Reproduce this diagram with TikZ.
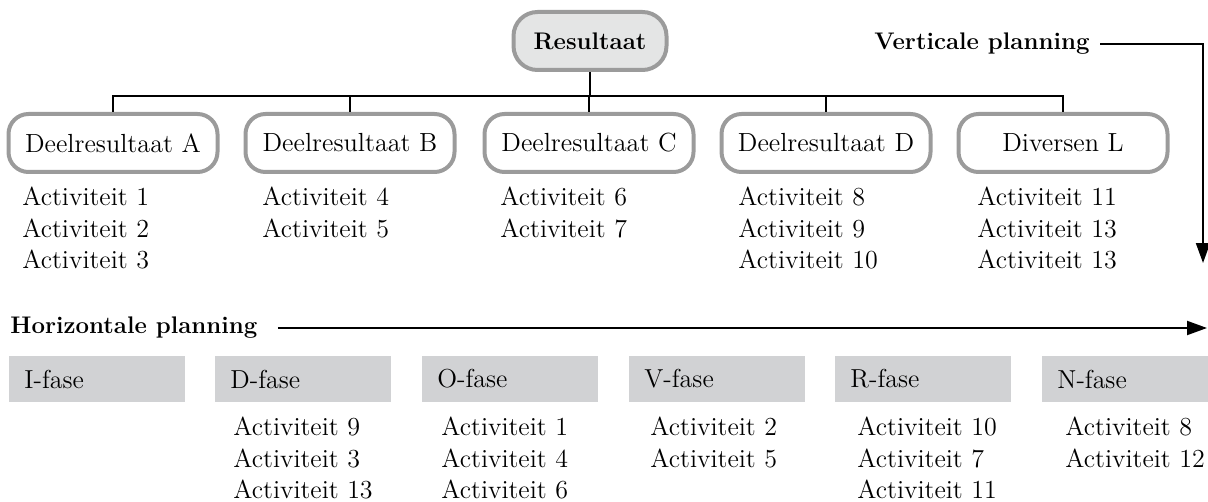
\documentclass[tikz,border=0pt]{standalone}
\usepackage{tikz}
\usetikzlibrary{arrows.meta}
\usetikzlibrary{positioning}
\definecolor{rand}{HTML}{9B9B9B}
\definecolor{vulres}{HTML}{E4E5E5}
\definecolor{fasegrijs}{HTML}{D1D2D4}
\tikzset{deel/.style = {draw=rand, line width=2pt, rounded corners=10pt, minimum width=104.5pt, minimum height=29pt, inner sep=0, font=\fontsize{13.1}{15}\selectfont}}
\tikzset{act/.style = {anchor=north west, align=left, inner sep=0, font=\fontsize{13}{15.75}\selectfont}}
\tikzset{fase/.style = {fill=fasegrijs, anchor=west, minimum width=88pt, minimum height=23pt, inner xsep=7.5pt, text width=73pt, align=left, font=\fontsize{13}{15}\selectfont}}
\tikzset{kop/.style = {inner sep=0, font=\bfseries\fontsize{12}{13}\selectfont}}
\tikzset{lijn/.style = {line width=1pt}}
\tikzset{pijl/.style = {line width=1pt, -{Triangle[length=10pt,width=7pt]}}}

\begin{document}
\begin{tikzpicture}[x=0.5pt, y=-0.5pt]
        \useasboundingbox (0,0) rectangle (1208,502);
        % verticale planning
        \node [draw=rand, fill=vulres, line width=2pt, rounded corners=12pt, minimum width=76.5pt, minimum height=29pt, kop] (res) at (590,41) {Resultaat};
        \node [deel] (dA) at (113,143) {Deelresultaat A};
        \node [deel] (dB) at (350,143) {Deelresultaat B};
        \node [deel] (dC) at (589,143) {Deelresultaat C};
        \node [deel] (dD) at (826,143) {Deelresultaat D};
        \node [deel] (dL) at (1063,143) {Diversen L};
        \coordinate (bar) at (0,96);
        \draw [lijn] (dA.north) |- (bar -| dL.north) -- (dL.north);
        \draw [lijn] (res.south) -- (res.south |- bar);
        \draw [lijn] (dB.north) -- (dB.north |- bar);
        \draw [lijn] (dC.north) -- (dC.north |- bar);
        \draw [lijn] (dD.north) -- (dD.north |- bar);
        \node [act] (aA) at (22,187) {Activiteit 1\\Activiteit 2\\Activiteit 3};
        \node [act] (aB) at (262,187) {Activiteit 4\\Activiteit 5};
        \node [act] (aC) at (500,187) {Activiteit 6\\Activiteit 7};
        \node [act] (aD) at (738,187) {Activiteit 8\\Activiteit 9\\Activiteit 10};
        \node [act] (aL) at (977,187) {Activiteit 11\\Activiteit 13\\Activiteit 13};
        \node [kop, anchor=east] (vp) at (1090,44) {Verticale planning};
        \coordinate (vend) at (1203,263);
        \draw [pijl, shorten <=5pt] (vp.east) -| (vend);
        % horizontale planning
        \node [kop, anchor=west] (hp) at (10,328) {Horizontale planning};
        \coordinate (hend) at (1207,328);
        \draw [pijl, shorten <=10pt] (hp.east) -- (hend);
        \node [fase] (fI) at (9,379) {I-fase};
        \node [fase] (fD) at (215,379) {D-fase};
        \node [fase] (fO) at (422,379) {O-fase};
        \node [fase] (fV) at (629,379) {V-fase};
        \node [fase] (fR) at (835,379) {R-fase};
        \node [fase] (fN) at (1042,379) {N-fase};
        \node [act] (bD) at (233,417) {Activiteit 9\\Activiteit 3\\Activiteit 13};
        \node [act] (bO) at (441,417) {Activiteit 1\\Activiteit 4\\Activiteit 6};
        \node [act] (bV) at (650,417) {Activiteit 2\\Activiteit 5};
        \node [act] (bR) at (857,417) {Activiteit 10\\Activiteit 7\\Activiteit 11};
        \node [act] (bN) at (1065,417) {Activiteit 8\\Activiteit 12};
    \end{tikzpicture}
\end{document}
